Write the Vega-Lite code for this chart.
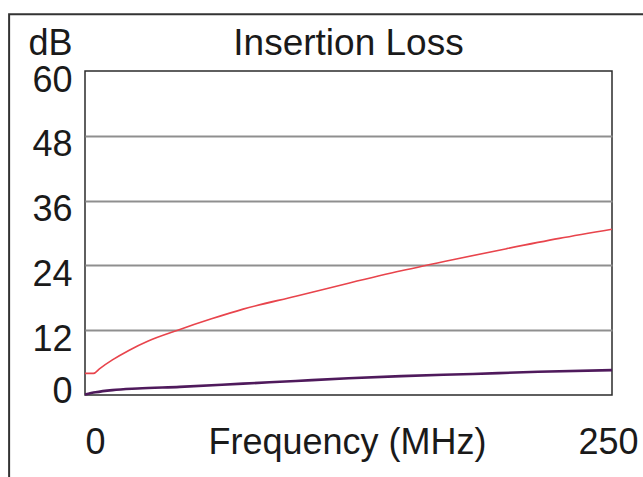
{
  "$schema": "https://vega.github.io/schema/vega-lite/v6.json",
  "width": 527,
  "height": 324,
  "autosize": {"type": "none"},
  "padding": {"left": 85, "top": 71, "right": 31, "bottom": 82},
  "background": "white",
  "config": {
    "font": "Liberation Sans",
    "view": {"stroke": "#2b2b2b", "strokeWidth": 1.5},
    "axis": {"labelFont": "Liberation Sans", "titleFont": "Liberation Sans", "labelColor": "#1a1a1a", "titleColor": "#1a1a1a", "titleFontWeight": "normal"}
  },
  "data": {
    "values": [
      {"f": 0, "dB": 4.0, "series": "Limit"},
      {"f": 4, "dB": 4.0, "series": "Limit"},
      {"f": 7, "dB": 4.9, "series": "Limit"},
      {"f": 13, "dB": 6.5, "series": "Limit"},
      {"f": 21, "dB": 8.3, "series": "Limit"},
      {"f": 30, "dB": 10.0, "series": "Limit"},
      {"f": 44, "dB": 12.0, "series": "Limit"},
      {"f": 60, "dB": 14.1, "series": "Limit"},
      {"f": 75, "dB": 15.9, "series": "Limit"},
      {"f": 100, "dB": 18.3, "series": "Limit"},
      {"f": 125, "dB": 20.7, "series": "Limit"},
      {"f": 150, "dB": 23.0, "series": "Limit"},
      {"f": 175, "dB": 25.1, "series": "Limit"},
      {"f": 200, "dB": 27.1, "series": "Limit"},
      {"f": 225, "dB": 29.0, "series": "Limit"},
      {"f": 250, "dB": 30.7, "series": "Limit"},
      {"f": 0, "dB": 0.1, "series": "Measured"},
      {"f": 5, "dB": 0.5, "series": "Measured"},
      {"f": 13, "dB": 0.9, "series": "Measured"},
      {"f": 25, "dB": 1.2, "series": "Measured"},
      {"f": 45, "dB": 1.5, "series": "Measured"},
      {"f": 75, "dB": 2.1, "series": "Measured"},
      {"f": 100, "dB": 2.6, "series": "Measured"},
      {"f": 125, "dB": 3.1, "series": "Measured"},
      {"f": 150, "dB": 3.5, "series": "Measured"},
      {"f": 184, "dB": 3.9, "series": "Measured"},
      {"f": 215, "dB": 4.3, "series": "Measured"},
      {"f": 250, "dB": 4.6, "series": "Measured"}
    ]
  },
  "layer": [
    {
      "data": {"values": [{"frame": "outer"}]},
      "mark": {"type": "rect", "clip": false, "fill": "transparent", "stroke": "#333333", "strokeWidth": 2},
      "encoding": {
        "x": {"datum": -36, "type": "quantitative", "scale": {"domain": [0, 250], "nice": false, "zero": false}, "axis": null},
        "x2": {"datum": 330},
        "y": {"datum": 70.5, "type": "quantitative", "scale": {"domain": [0, 60], "nice": false, "zero": false}, "axis": null},
        "y2": {"datum": -40}
      }
    },
    {
      "transform": [{"filter": "datum.series === 'Limit'"}],
      "mark": {"type": "line", "color": "#e8444c", "strokeWidth": 1.6, "interpolate": "monotone"},
      "encoding": {
        "x": {
          "field": "f", "type": "quantitative",
          "scale": {"domain": [0, 250], "nice": false, "zero": false},
          "axis": {
            "orient": "bottom", "title": "Frequency (MHz)", "values": [0, 250],
            "ticks": false, "tickSize": 0, "domain": false, "grid": false,
            "labelFontSize": 36, "labelBaseline": "alphabetic", "labelPadding": 58, "labelAlign": "center",
            "labelOffset": {"condition": {"test": "datum.value === 0", "value": 10}, "value": -4},
            "titleFontSize": 36, "titleBaseline": "alphabetic", "titleY": 58, "titleX": 262
          }
        },
        "y": {
          "field": "dB", "type": "quantitative",
          "scale": {"domain": [0, 60], "nice": false, "zero": false},
          "axis": {
            "orient": "left", "title": "dB", "values": [0, 12, 24, 36, 48, 60],
            "ticks": false, "tickSize": 0, "domain": false, "grid": true,
            "gridColor": {"condition": {"test": "datum.value === 0 || datum.value === 60", "value": "transparent"}, "value": "#8f8f8f"},
            "gridWidth": 2,
            "labelFontSize": 36, "labelBaseline": "alphabetic", "labelPadding": 13, "labelAlign": "right",
            "labelOffset": {"condition": {"test": "datum.value === 0", "value": 7}, "value": 20},
            "titleAngle": 0, "titleAlign": "right", "titleBaseline": "alphabetic",
            "titleX": -13, "titleY": -17, "titleFontSize": 36
          }
        }
      }
    },
    {
      "transform": [{"filter": "datum.series === 'Measured'"}],
      "mark": {"type": "line", "color": "#4f1a5c", "strokeWidth": 2.6, "interpolate": "monotone"},
      "encoding": {
        "x": {
          "field": "f", "type": "quantitative",
          "axis": {
            "orient": "top", "title": "Insertion Loss", "labels": false, "ticks": false, "domain": false, "grid": false,
            "titleFontSize": 37, "titleBaseline": "alphabetic", "titleY": -17, "titleX": 263
          }
        },
        "y": {"field": "dB", "type": "quantitative", "axis": null}
      }
    }
  ],
  "resolve": {"axis": {"x": "independent", "y": "independent"}}
}
